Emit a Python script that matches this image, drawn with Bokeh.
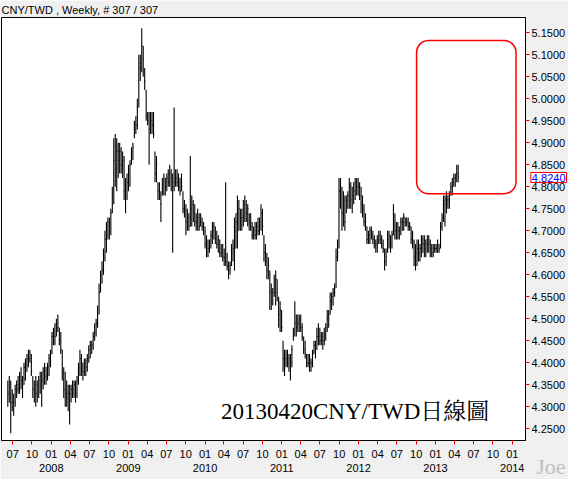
import pandas as pd
from bokeh.plotting import figure
from bokeh.models import (Range1d, DatetimeAxis, MonthsTicker, FixedTicker, Title,
                          DatetimeTickFormatter, PrintfTickFormatter,
                          SingleIntervalTicker, Label, BoxAnnotation, ColumnDataSource)
from bokeh.embed import file_html
from bokeh.resources import INLINE

# ---- data: CNY/TWD weekly bars (307 weeks, last week ending 2013-04-19) ----
last_week = "2013-04-19"
high = [
4.36,4.37,4.36,4.34,4.33,4.35,4.36,4.37,4.38,4.39,
4.37,4.40,4.41,4.42,4.43,4.43,4.42,4.37,4.36,4.37,
4.36,4.37,4.38,4.38,4.39,4.40,4.39,4.40,4.42,4.43,
4.47,4.48,4.49,4.50,4.51,4.48,4.47,4.43,4.39,4.38,
4.36,4.35,4.35,4.35,4.36,4.36,4.36,4.37,4.40,4.43,
4.42,4.40,4.41,4.41,4.42,4.44,4.45,4.45,4.47,4.49,
4.50,4.53,4.58,4.61,4.63,4.66,4.70,4.72,4.73,4.73,
4.75,4.80,4.91,4.92,4.91,4.90,4.90,4.89,4.88,4.87,
4.82,4.83,4.85,4.86,4.89,4.90,4.95,4.96,5.00,5.10,
5.10,5.16,5.12,5.07,5.02,4.97,4.97,4.97,4.97,4.97,
4.88,4.87,4.81,4.81,4.79,4.82,4.83,4.82,4.83,4.84,
4.85,4.84,4.83,4.98,4.84,4.84,4.83,4.82,4.83,4.79,
4.77,4.76,4.75,4.74,4.87,4.78,4.77,4.76,4.74,4.75,
4.74,4.74,4.73,4.72,4.71,4.69,4.68,4.68,4.70,4.72,
4.72,4.71,4.70,4.69,4.68,4.67,4.67,4.66,4.81,4.65,
4.63,4.63,4.67,4.68,4.73,4.74,4.78,4.77,4.75,4.75,
4.77,4.78,4.77,4.76,4.74,4.74,4.72,4.71,4.72,4.72,
4.73,4.73,4.76,4.75,4.69,4.67,4.65,4.64,4.61,4.58,
4.57,4.60,4.61,4.59,4.55,4.54,4.52,4.45,4.43,4.43,
4.43,4.42,4.42,4.44,4.48,4.54,4.51,4.51,4.51,4.51,
4.49,4.46,4.45,4.42,4.42,4.42,4.41,4.43,4.45,4.45,
4.48,4.49,4.48,4.47,4.47,4.48,4.49,4.52,4.52,4.56,
4.56,4.57,4.58,4.66,4.68,4.82,4.82,4.80,4.79,4.78,
4.78,4.79,4.82,4.81,4.80,4.81,4.82,4.82,4.82,4.81,
4.80,4.78,4.76,4.74,4.71,4.70,4.71,4.71,4.70,4.69,
4.68,4.69,4.70,4.70,4.69,4.68,4.66,4.66,4.70,4.70,
4.69,4.70,4.76,4.74,4.72,4.72,4.71,4.73,4.73,4.74,
4.73,4.73,4.73,4.72,4.71,4.70,4.68,4.67,4.68,4.68,
4.67,4.69,4.69,4.69,4.68,4.69,4.69,4.68,4.67,4.67,
4.67,4.67,4.68,4.67,4.72,4.74,4.78,4.78,4.79,4.78,
4.79,4.81,4.82,4.83,4.83,4.85,4.85]
low = [
4.30,4.31,4.24,4.29,4.28,4.30,4.32,4.33,4.33,4.34,
4.32,4.35,4.36,4.38,4.39,4.40,4.37,4.32,4.31,4.30,
4.31,4.32,4.33,4.30,4.34,4.35,4.35,4.36,4.37,4.39,
4.42,4.44,4.44,4.46,4.47,4.44,4.42,4.36,4.32,4.30,
4.30,4.29,4.26,4.31,4.32,4.32,4.31,4.32,4.35,4.37,
4.37,4.36,4.37,4.37,4.38,4.40,4.41,4.42,4.43,4.45,
4.46,4.48,4.51,4.56,4.58,4.60,4.63,4.65,4.68,4.68,
4.69,4.74,4.76,4.80,4.79,4.82,4.83,4.83,4.82,4.77,
4.74,4.77,4.79,4.80,4.85,4.86,4.91,4.92,4.93,4.98,
5.04,5.06,5.05,5.02,4.95,4.94,4.85,4.92,4.92,4.91,
4.81,4.81,4.77,4.77,4.72,4.78,4.78,4.78,4.79,4.80,
4.80,4.79,4.65,4.79,4.80,4.80,4.79,4.78,4.79,4.74,
4.73,4.69,4.70,4.70,4.71,4.71,4.72,4.71,4.70,4.70,
4.70,4.71,4.70,4.69,4.66,4.64,4.64,4.65,4.66,4.67,
4.68,4.67,4.66,4.65,4.64,4.64,4.63,4.62,4.62,4.61,
4.59,4.60,4.62,4.63,4.61,4.66,4.66,4.70,4.70,4.70,
4.71,4.72,4.72,4.71,4.70,4.70,4.68,4.68,4.68,4.68,
4.69,4.69,4.70,4.69,4.63,4.62,4.59,4.59,4.52,4.52,
4.53,4.55,4.53,4.54,4.48,4.47,4.47,4.38,4.37,4.39,
4.39,4.38,4.36,4.39,4.45,4.46,4.46,4.47,4.47,4.47,
4.45,4.42,4.41,4.39,4.39,4.38,4.38,4.39,4.42,4.41,
4.43,4.44,4.44,4.44,4.43,4.44,4.45,4.47,4.48,4.51,
4.52,4.53,4.55,4.57,4.63,4.66,4.75,4.70,4.71,4.70,
4.74,4.75,4.75,4.75,4.74,4.76,4.77,4.78,4.78,4.77,
4.74,4.73,4.71,4.70,4.67,4.67,4.67,4.68,4.67,4.66,
4.65,4.65,4.67,4.67,4.66,4.65,4.61,4.62,4.65,4.66,
4.65,4.66,4.69,4.68,4.68,4.68,4.68,4.69,4.70,4.70,
4.71,4.71,4.70,4.70,4.67,4.66,4.62,4.61,4.62,4.63,
4.63,4.64,4.65,4.64,4.64,4.65,4.65,4.64,4.64,4.64,
4.65,4.65,4.65,4.65,4.66,4.70,4.72,4.71,4.74,4.75,
4.75,4.78,4.78,4.80,4.80,4.81,4.81]
close = [
4.33,4.35,4.31,4.30,4.31,4.34,4.35,4.34,4.37,4.36,
4.35,4.39,4.40,4.41,4.42,4.41,4.38,4.34,4.35,4.33,
4.35,4.36,4.37,4.36,4.38,4.39,4.37,4.39,4.41,4.42,
4.46,4.47,4.46,4.49,4.48,4.45,4.43,4.38,4.34,4.33,
4.32,4.33,4.33,4.34,4.33,4.35,4.33,4.36,4.39,4.41,
4.40,4.38,4.40,4.39,4.41,4.43,4.44,4.44,4.46,4.47,
4.49,4.52,4.56,4.60,4.61,4.64,4.68,4.70,4.72,4.70,
4.74,4.78,4.86,4.84,4.88,4.86,4.88,4.85,4.86,4.79,
4.78,4.81,4.83,4.85,4.88,4.89,4.93,4.94,4.98,5.07,
5.08,5.12,5.09,5.04,4.96,4.95,4.93,4.95,4.94,4.92,
4.83,4.85,4.79,4.78,4.76,4.80,4.82,4.80,4.82,4.81,
4.83,4.82,4.80,4.81,4.82,4.81,4.80,4.79,4.80,4.75,
4.75,4.72,4.73,4.71,4.75,4.76,4.74,4.72,4.72,4.73,
4.71,4.72,4.71,4.70,4.67,4.66,4.66,4.67,4.69,4.70,
4.71,4.68,4.67,4.68,4.65,4.65,4.64,4.64,4.63,4.62,
4.61,4.62,4.65,4.66,4.70,4.72,4.74,4.75,4.72,4.73,
4.75,4.76,4.74,4.75,4.72,4.71,4.69,4.70,4.69,4.71,
4.70,4.72,4.74,4.71,4.65,4.64,4.61,4.62,4.56,4.55,
4.56,4.58,4.59,4.56,4.51,4.52,4.48,4.41,4.40,4.41,
4.40,4.41,4.40,4.43,4.47,4.49,4.48,4.49,4.50,4.48,
4.46,4.43,4.42,4.40,4.40,4.39,4.40,4.42,4.44,4.43,
4.46,4.46,4.45,4.46,4.45,4.47,4.48,4.50,4.51,4.54,
4.55,4.56,4.57,4.64,4.65,4.79,4.78,4.74,4.77,4.72,
4.77,4.78,4.80,4.77,4.78,4.79,4.81,4.80,4.80,4.78,
4.76,4.75,4.72,4.71,4.68,4.69,4.70,4.69,4.68,4.67,
4.67,4.68,4.69,4.68,4.67,4.66,4.63,4.64,4.68,4.69,
4.67,4.69,4.72,4.70,4.71,4.70,4.70,4.72,4.72,4.73,
4.72,4.72,4.71,4.71,4.68,4.67,4.64,4.65,4.66,4.65,
4.66,4.68,4.67,4.66,4.67,4.68,4.67,4.66,4.65,4.66,
4.66,4.66,4.67,4.66,4.71,4.73,4.76,4.77,4.77,4.77,
4.78,4.80,4.81,4.82,4.82,4.83,4.824]
year_labels = [2008, 2009, 2010, 2011, 2012, 2013, 2014]
last_price = 4.8240
title_text = "CNY/TWD , Weekly, # 307 / 307"
caption = "20130420CNY/TWD日線圖"
signature = "Joe"

n = min(len(high), len(low), len(close))
dates = pd.date_range(end=last_week, periods=n, freq="W-FRI")
src = ColumnDataSource(dict(
    date=dates, date_r=dates + pd.Timedelta(days=4),
    high=high[:n], low=low[:n], close=close[:n]))

def ms(s):
    return pd.Timestamp(s).value / 1e6

x_start, x_end = ms("2007-05-09"), ms("2014-03-05")
y_start, y_end = 4.2236, 5.1845

p = figure(width=568, height=479, x_axis_type="datetime", y_axis_location="right",
           output_backend="svg", toolbar_location=None,
           x_range=Range1d(x_start, x_end), y_range=Range1d(y_start, y_end),
           title=title_text, min_border_left=1, min_border_top=0,
           min_border_bottom=39, min_border_right=0,
           background_fill_color="white", border_fill_color="#F0F0F0")
p.outline_line_color = "black"
p.outline_line_width = 1
p.grid.visible = False

LF = "Liberation Sans"
p.title.text_font = LF
p.title.text_font_size = "11px"
p.title.text_font_style = "normal"
p.title.text_color = "black"
p.title.standoff = 3
p.title.offset = 0

# month axis
xa = p.xaxis[0]
xa.ticker = MonthsTicker(months=[0, 3, 6, 9])
xa.formatter = DatetimeTickFormatter(months="%m", days="%m", years="%m")
xa.major_tick_line_color = "red"
xa.major_tick_in = 0
xa.major_tick_out = 4
xa.minor_tick_line_color = None
xa.axis_line_color = "black"
xa.major_label_text_font = LF
xa.major_label_text_font_size = "11px"
xa.major_label_text_color = "black"
xa.major_label_standoff = 5

# year axis
yr = DatetimeAxis(ticker=FixedTicker(ticks=[ms(f"{y}-01-01") for y in year_labels]),
                  formatter=DatetimeTickFormatter(years="%Y", months="%Y", days="%Y"),
                  major_tick_out=0, major_tick_in=0, minor_tick_line_color=None,
                  axis_line_color=None, major_tick_line_color=None,
                  major_label_standoff=3, major_label_text_font=LF,
                  major_label_text_font_size="11px", major_label_text_color="black")
p.add_layout(yr, "below")

# price axis
pa = p.yaxis[0]
pa.ticker = SingleIntervalTicker(interval=0.05, num_minor_ticks=0)
pa.formatter = PrintfTickFormatter(format="%.4f")
pa.major_tick_line_color = "red"
pa.major_tick_in = 0
pa.major_tick_out = 4
pa.minor_tick_line_color = None
pa.axis_line_color = "black"
pa.major_label_text_font = LF
pa.major_label_text_font_size = "11px"
pa.major_label_text_color = "black"
pa.major_label_standoff = 2

# OHLC bars
p.segment(x0="date", y0="low", x1="date", y1="high", source=src,
          line_color="black", line_width=1.1)
p.segment(x0="date", y0="close", x1="date_r", y1="close", source=src,
          line_color="black", line_width=1)

# highlight box
p.add_layout(BoxAnnotation(left=ms("2012-10-03"), right=ms("2014-01-19"),
                           top=5.132, bottom=4.784, fill_color=None, fill_alpha=0,
                           line_color="#FF0000", line_alpha=1, line_width=1.5,
                           border_radius=12))

# caption
p.add_layout(Label(x=ms("2010-03-18"), y=4.29, text=caption,
                   text_font="'Liberation Serif', 'Noto Serif CJK TC', 'Noto Sans CJK TC', serif",
                   text_font_size="23px", text_color="black",
                   text_baseline="alphabetic", text_align="left"))

# signature and last-price tag: side-panel titles (not clipped to the frame)
joe = Title(text=signature, align="right", offset=-40, vertical_align="top",
            standoff=-42, text_font="Liberation Serif", text_font_size="22px",
            text_font_style="normal", text_color="#C0C0C0")
p.add_layout(joe, "below")
tag = Title(text=f"{last_price:.4f}", align="right", offset=-41, vertical_align="top",
            standoff=-604, text_font=LF, text_font_size="11px", text_font_style="normal",
            text_color="blue", border_line_color="red", border_line_width=1,
            background_fill_color="white", padding=1)
p.add_layout(tag, "below")

open("out.html", "w").write(file_html(p, INLINE))
